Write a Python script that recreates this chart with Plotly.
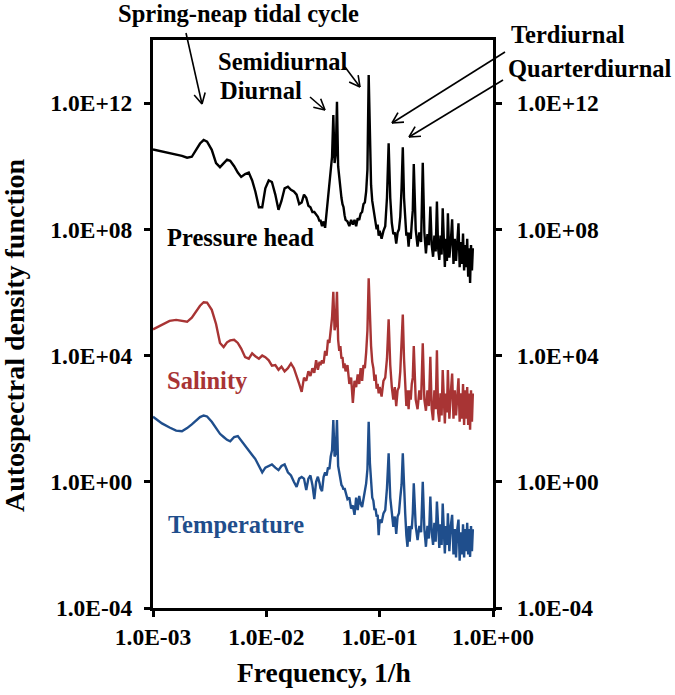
import math
import plotly.graph_objects as go

# ---------------- data ----------------
freq = [
    0.0010, 0.0012, 0.0014, 0.0016, 0.0018, 0.0020, 0.0022, 0.0024, 0.0026, 0.0028,
    0.0030, 0.0033, 0.0036, 0.0039, 0.0042, 0.0045, 0.0048, 0.0052, 0.0056, 0.0060,
    0.0065, 0.0070, 0.0075, 0.0080, 0.0086, 0.0092, 0.0098, 0.0105, 0.0112, 0.0120,
    0.0128, 0.0136, 0.0145, 0.0155, 0.0165, 0.0175, 0.0185, 0.0195, 0.0205, 0.0215,
    0.0225, 0.0235, 0.0245, 0.0255, 0.0265, 0.0275, 0.0285, 0.0295,
    0.030, 0.031, 0.032, 0.033, 0.034, 0.035, 0.036, 0.037, 0.038, 0.039,
    0.040, 0.041, 0.042, 0.043, 0.044, 0.045, 0.046, 0.047, 0.048, 0.049, 0.050,
    0.052, 0.054, 0.056, 0.058, 0.060, 0.062, 0.064, 0.066, 0.068, 0.070,
    0.072, 0.074, 0.076, 0.078, 0.080, 0.082, 0.084, 0.086, 0.088, 0.090,
    0.092, 0.094, 0.096, 0.098,
    0.100, 0.104, 0.108, 0.112, 0.116, 0.120, 0.124, 0.128, 0.132, 0.136,
    0.140, 0.144, 0.148, 0.152, 0.156, 0.160, 0.164, 0.168, 0.172, 0.176,
    0.180, 0.184, 0.188, 0.192, 0.196,
    0.200, 0.208, 0.216, 0.224, 0.232, 0.240, 0.248, 0.256, 0.264, 0.272,
    0.280, 0.288, 0.296, 0.304, 0.312, 0.320, 0.328, 0.336, 0.344, 0.352,
    0.360, 0.368, 0.376, 0.384, 0.392,
    0.400, 0.412, 0.424, 0.436, 0.448, 0.460, 0.472, 0.484, 0.496, 0.508,
    0.520, 0.532, 0.544, 0.556, 0.568, 0.580, 0.592, 0.604, 0.616, 0.628,
    0.640, 0.652, 0.664,
]

# log10 of the autospectral density
pressure_head_log10 = [
    10.53, 10.47, 10.43, 10.38, 10.33, 10.27, 10.30, 10.52, 10.72, 10.83,
    10.78, 10.52, 10.10, 9.97, 10.10, 10.21, 10.17, 10.00, 9.80, 9.66,
    9.75, 9.80, 9.55, 9.20, 8.70, 8.70, 9.30, 9.55, 9.50, 9.10,
    8.62, 8.90, 9.30, 9.35, 9.25, 9.20, 9.10, 8.80, 8.85, 9.10,
    9.00, 8.75, 8.70, 8.55, 8.55, 8.45, 8.40, 8.25,
    8.30, 8.10, 8.25, 8.05, 8.50, 8.90, 9.40, 9.90, 10.30, 11.62,
    10.10, 10.40, 12.04, 10.00, 9.60, 9.30, 9.00, 8.80, 8.70, 8.45, 8.30,
    8.25, 8.10, 8.30, 8.15, 8.30, 8.10, 8.35, 8.30, 8.50, 8.55,
    8.80, 8.85, 9.20, 9.90, 12.89, 10.50, 9.40, 8.90, 8.70, 8.40,
    8.30, 8.00, 8.15, 7.80,
    7.95, 7.70, 7.95, 8.10, 9.00, 10.73, 9.00, 8.20, 7.85, 7.90,
    7.55, 7.90, 8.00, 8.40, 9.30, 10.60, 9.00, 8.30, 7.80, 7.90,
    7.45, 7.90, 7.70, 8.20, 8.60,
    10.07, 8.00, 7.45, 7.90, 7.60, 10.11, 7.90, 7.24, 7.85, 7.50,
    8.72, 7.50, 7.13, 7.80, 7.30, 8.88, 7.40, 7.03, 7.80, 7.20,
    8.67, 7.30, 6.81, 7.70, 7.00,
    8.51, 7.10, 7.60, 8.32, 6.90, 7.70, 7.00, 7.60, 8.19, 6.80,
    7.60, 6.90, 7.87, 6.70, 7.50, 6.80, 7.70, 6.50, 7.40, 6.30,
    7.50, 6.70, 7.40,
]

salinity_log10 = [
    4.83, 4.98, 5.10, 5.13, 5.11, 5.07, 5.20, 5.42, 5.58, 5.69,
    5.68, 5.45, 5.00, 4.40, 4.27, 4.42, 4.48, 4.50, 4.40, 4.22,
    3.95, 3.90, 4.07, 3.98, 3.90, 4.00, 3.95, 3.85, 3.68, 3.70,
    3.55, 3.65, 3.50, 3.60, 3.75, 3.60, 3.30, 3.10, 2.85, 3.30,
    3.20, 3.50, 3.35, 3.60, 3.45, 3.85, 3.55, 3.80,
    3.70, 3.85, 3.75, 4.15, 4.00, 4.50, 4.40, 4.90, 5.20, 6.02,
    4.80, 5.00, 6.02, 4.50, 4.15, 4.30, 3.90, 3.95, 3.60, 3.75, 3.50,
    3.70, 3.10, 3.30, 2.50, 3.20, 3.00, 3.40, 3.10, 3.60, 3.20,
    3.70, 3.60, 4.10, 4.80, 6.45, 5.00, 4.30, 3.80, 3.60, 3.20,
    3.40, 2.95, 3.10, 2.80,
    3.00, 2.70, 3.20, 3.30, 3.90, 5.15, 3.70, 3.00, 2.60, 3.00,
    2.40, 2.90, 3.00, 3.50, 4.20, 5.30, 3.90, 3.00, 2.40, 2.90,
    2.30, 2.90, 2.60, 3.10, 3.30,
    4.30, 2.60, 2.30, 2.90, 2.60, 4.39, 2.60, 2.25, 2.90, 2.40,
    3.96, 2.30, 1.95, 2.90, 2.30, 4.17, 2.20, 1.90, 2.80, 2.10,
    3.54, 2.50, 1.85, 2.80, 2.20,
    3.54, 2.00, 2.80, 3.43, 2.00, 2.90, 2.10, 2.70, 3.28, 1.90,
    2.80, 2.00, 3.10, 1.80, 2.90, 2.00, 3.00, 1.80, 2.80, 1.65,
    2.90, 1.90, 2.80,
]

temperature_log10 = [
    2.06, 1.85, 1.72, 1.62, 1.60, 1.70, 1.82, 1.95, 2.05, 2.10,
    2.07, 1.90, 1.70, 1.52, 1.42, 1.33, 1.28, 1.42, 1.45, 1.30,
    1.15, 1.00, 0.85, 0.72, 0.50, 0.30, 0.45, 0.50, 0.55, 0.45,
    0.37, 0.50, 0.55, 0.30, 0.20, 0.00, -0.16, 0.10, 0.15, 0.10,
    -0.26, 0.10, 0.20, -0.10, -0.55, 0.00, 0.16, -0.05,
    -0.20, -0.30, 0.15, 0.30, 0.20, 0.45, 0.40, 0.80, 1.00, 1.96,
    0.80, 0.90, 1.96, 0.50, 0.25, 0.10, -0.10, -0.15, -0.25, -0.20, -0.35,
    -0.55, -0.50, -0.85, -0.75, -1.05, -0.50, -0.90, -0.45, -0.70, -0.80,
    -0.50, -0.35, -0.05, 0.40, 1.90, 0.60, 0.00, -0.50, -0.60, -0.90,
    -0.85, -1.10, -1.05, -1.69,
    -1.20, -1.30, -1.00, -0.90, -0.20, 0.90, -0.50, -1.00, -1.43, -1.10,
    -1.65, -1.10, -1.00, -0.50, -0.10, 0.90, -0.50, -1.00, -1.70, -2.06,
    -1.40, -1.90, -1.40, -1.50, -1.00,
    -0.05, -1.40, -1.85, -1.40, -1.60, 0.00, -1.50, -2.06, -1.40, -1.80,
    -0.47, -1.60, -2.00, -1.30, -1.90, -0.63, -1.60, -2.10, -1.35, -2.00,
    -0.69, -1.70, -2.27, -1.40, -2.00,
    -1.00, -2.20, -1.40, -1.05, -2.30, -1.50, -2.40, -1.50, -1.20, -2.50,
    -1.60, -2.30, -1.35, -2.40, -1.50, -2.20, -1.30, -2.30, -1.50, -2.38,
    -1.40, -2.20, -1.50,
]

series_names = ["Pressure head", "Salinity", "Temperature"]
series_colors = ["#000000", "#A83434", "#1F4E8C"]

y_tick_values = [1e-4, 1e0, 1e4, 1e8, 1e12]
y_tick_labels = ["1.0E-04", "1.0E+00", "1.0E+04", "1.0E+08", "1.0E+12"]
x_tick_values = [1e-3, 1e-2, 1e-1, 1e0]
x_tick_labels = ["1.0E-03", "1.0E-02", "1.0E-01", "1.0E+00"]

# ---------------- figure ----------------
W, H = 675, 695
PLOT_LEFT, PLOT_RIGHT, PLOT_TOP, PLOT_BOTTOM = 153, 493, 40, 608   # page pixels
L = PLOT_LEFT
T = PLOT_TOP
PW = PLOT_RIGHT - PLOT_LEFT
PH = PLOT_BOTTOM - PLOT_TOP
R = W - L - PW
B = H - T - PH
SERIF = "Liberation Serif, Times New Roman, serif"


def px(xp):
    return (xp - PLOT_LEFT) / PW


def py(yp):
    return (PLOT_BOTTOM - yp) / PH


fig = go.Figure()
all_series = [pressure_head_log10, salinity_log10, temperature_log10]
for name, color, vals in zip(series_names, series_colors, all_series):
    assert len(vals) == len(freq)
    fig.add_trace(go.Scatter(
        x=freq, y=[10 ** v for v in vals], mode="lines", name=name,
        line=dict(color=color, width=2.4), showlegend=False,
    ))

# invisible trace to activate the right-hand axis
fig.add_trace(go.Scatter(
    x=[freq[0]], y=[10 ** pressure_head_log10[0]], yaxis="y2", mode="markers",
    marker=dict(opacity=0), showlegend=False, hoverinfo="skip",
))

tickfont = dict(family=SERIF, size=23.5, color="black", weight="bold")
yaxis_common = dict(
    type="log", range=[-4, 14], tickvals=y_tick_values, ticktext=y_tick_labels,
    ticks="outside", ticklen=6, tickwidth=3, tickcolor="black",
    showline=True, linewidth=3, linecolor="black", showgrid=False,
    zeroline=False, tickfont=tickfont, automargin=False,
)

fig.update_layout(
    width=W, height=H,
    margin=dict(l=L, r=R, t=T, b=B, pad=0),
    paper_bgcolor="white", plot_bgcolor="white",
    xaxis=dict(
        type="log", range=[-3, 0], tickvals=x_tick_values, ticktext=x_tick_labels,
        ticks="outside", ticklen=6, tickwidth=3, tickcolor="black",
        showline=True, linewidth=3, linecolor="black", mirror=True,
        showgrid=False, zeroline=False, tickfont=tickfont, ticklabelstandoff=0,
        automargin=False,
    ),
    yaxis=dict(**yaxis_common, side="left", ticklabelstandoff=7),
    yaxis2=dict(**yaxis_common, side="right", overlaying="y", ticklabelstandoff=10),
)

annotations = []


def label(text, xc, yc, size=24.5, color="black", angle=0):
    annotations.append(dict(
        text=text, xref="paper", yref="paper", x=px(xc), y=py(yc),
        xanchor="center", yanchor="middle", showarrow=False, textangle=angle,
        font=dict(family=SERIF, size=size, color=color, weight="bold"),
    ))


label("Spring-neap tidal cycle", 238, 14)
label("Semidiurnal", 283, 62)
label("Diurnal", 261, 90)
label("Terdiurnal", 568, 35)
label("Quarterdiurnal", 590, 68)
label("Pressure head", 240, 237)
label("Salinity", 207, 381, color=series_colors[1])
label("Temperature", 236, 524, color=series_colors[2])
label("Frequency, 1/h", 324, 672, size=27.5)
label("Autospectral density function", 15, 335, size=28, angle=-90)
fig.update_layout(annotations=annotations)

shapes = []


def arrow(x0, y0, x1, y1, head=12, ang=28):
    shapes.append(dict(type="line", xref="paper", yref="paper",
                       x0=px(x0), y0=py(y0), x1=px(x1), y1=py(y1),
                       line=dict(color="black", width=1.6)))
    dx, dy = x0 - x1, y0 - y1
    n = math.hypot(dx, dy)
    dx, dy = dx / n, dy / n
    for s in (1, -1):
        a = math.radians(ang * s)
        rx = dx * math.cos(a) - dy * math.sin(a)
        ry = dx * math.sin(a) + dy * math.cos(a)
        shapes.append(dict(type="line", xref="paper", yref="paper",
                           x0=px(x1), y0=py(y1), x1=px(x1 + head * rx), y1=py(y1 + head * ry),
                           line=dict(color="black", width=1.6)))


arrow(186, 33, 202, 104)
arrow(310, 97, 325, 110)
arrow(345, 67, 360, 87)
arrow(505, 52, 392, 123)
arrow(503, 80, 409, 137)
fig.update_layout(shapes=shapes)

# the page body's default 8px margin would shift the whole figure; remove it
fig.write_html(
    "out.html",
    config={"displayModeBar": False},
    post_script="document.body.style.margin='0px';",
)
